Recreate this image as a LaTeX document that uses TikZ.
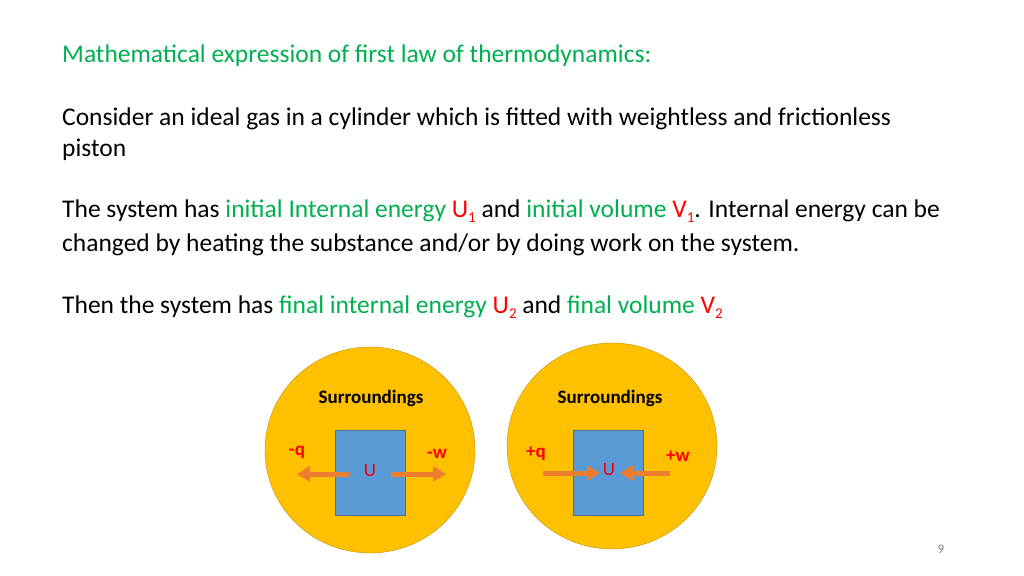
\documentclass[tikz,border=0pt]{standalone}
\usepackage{fontspec}
\setmainfont{Carlito}
\usetikzlibrary{arrows.meta,shapes.geometric}
\definecolor{grn}{RGB}{0,176,80}
\definecolor{rd}{RGB}{255,0,0}
\definecolor{circ}{RGB}{255,192,0}
\definecolor{circd}{RGB}{190,145,0}
\definecolor{boxf}{RGB}{91,155,213}
\definecolor{boxd}{RGB}{65,113,156}
\definecolor{orng}{RGB}{237,125,49}
\newcommand{\sbs}[1]{\raisebox{-0.2em}{\fontsize{15}{17}\selectfont #1}}
\begin{document}
\begin{tikzpicture}[x=1pt,y=-1pt,
  txt/.style={anchor=base west,inner sep=0,font=\fontsize{25.5}{30}\selectfont},
  surr/.style={ellipse,fill=circ,draw=circd,minimum width=210,minimum height=206,inner sep=0},
  sys/.style={rectangle,fill=boxf,draw=boxd,minimum width=70,minimum height=85,inner sep=0},
  lab/.style={font=\fontsize{19}{21}\selectfont\bfseries,text=rd,inner sep=0},
  arr/.style={orng,line width=5,-{Triangle[width=15,length=13]}}]
\useasboundingbox (0,0) rectangle (1024,575);
\fill[white] (0,0) rectangle (1024,575);
\node[txt,text=grn] (t0) at (62,63) {Mathematical expression of first law of thermodynamics:};
\node[txt] (t1) at (62,125) {Consider an ideal gas in a cylinder which is fitted with weightless and frictionless};
\node[txt] (t2) at (62,156) {piston};
\node[txt] (t3) at (62,217) {The system has \textcolor{grn}{initial Internal energy} \textcolor{rd}{U\sbs{1}} and \textcolor{grn}{initial volume} \textcolor{rd}{V\sbs{1}}. Internal energy can be};
\node[txt] (t4) at (62,251) {changed by heating the substance and/or by doing work on the system.};
\node[txt] (t5) at (62,313) {Then the system has \textcolor{grn}{final internal energy} \textcolor{rd}{U\sbs{2}} and \textcolor{grn}{final volume} \textcolor{rd}{V\sbs{2}}};
\node[surr] (c1) at (370,450) {};
\node[surr] (c2) at (612,446) {};
\node[sys] (b1) at (370,472.5) {};
\node[sys] (b2) at (608.5,472.5) {};
\node[font=\fontsize{19}{21}\selectfont\bfseries,inner sep=0] (s1) at (371,398) {Surroundings};
\node[font=\fontsize{19}{21}\selectfont\bfseries,inner sep=0] (s2) at (610,398) {Surroundings};
\node[font=\fontsize{19}{21}\selectfont,text=rd!75!purple,inner sep=0] (u1) at (370,470) {U};
\node[font=\fontsize{19}{21}\selectfont,text=rd!75!purple,inner sep=0] (u2) at (609,469) {U};
\coordinate (a1s) at (349,474); \coordinate (a1e) at (297,474);
\coordinate (a2s) at (391,474); \coordinate (a2e) at (446,474);
\coordinate (a3s) at (543,473); \coordinate (a3e) at (600,473);
\coordinate (a4s) at (670,473); \coordinate (a4e) at (620,473);
\draw[arr] (a1s) -- (a1e);
\draw[arr] (a2s) -- (a2e);
\draw[arr] (a3s) -- (a3e);
\draw[arr] (a4s) -- (a4e);
\node[lab] (l1) at (297,452) {-q};
\node[lab] (l2) at (437,454) {-w};
\node[lab] (l3) at (536,454) {+q};
\node[lab] (l4) at (678,456) {+w};
\node[font=\fontsize{13}{15}\selectfont,text=gray,inner sep=0] (pg) at (941,549) {9};
\end{tikzpicture}
\end{document}
